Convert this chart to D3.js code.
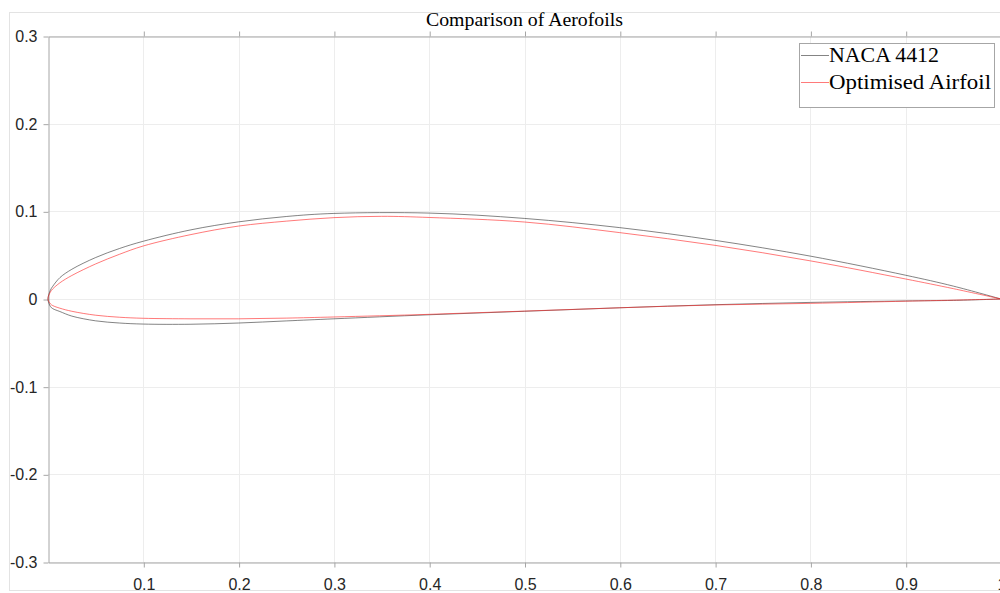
<!DOCTYPE html>
<html>
<head>
<meta charset="utf-8">
<script src="https://cdn.jsdelivr.net/npm/d3@7"></script>
<style>
  html, body { margin: 0; padding: 0; background: #fff; }
  svg { display: block; }
</style>
</head>
<body>
<svg id="chart" width="1000" height="593"></svg>
<script>
// ---- data ----
const title = "Comparison of Aerofoils";
const seriesNames = ["NACA 4412", "Optimised Airfoil"];

// NACA 4412: trailing edge -> upper surface -> leading edge -> lower surface -> trailing edge
const nacaX = [1.0, 0.95, 0.9, 0.8, 0.7, 0.6, 0.5, 0.4, 0.3, 0.25, 0.2, 0.15, 0.1, 0.075, 0.05, 0.025, 0.0125, 0.005, 0.0025, 0.0,
               0.0025, 0.005, 0.0125, 0.025, 0.05, 0.075, 0.1, 0.15, 0.2, 0.25, 0.3, 0.4, 0.5, 0.6, 0.7, 0.8, 0.9, 0.95, 1.0];
const nacaY = [0.0, 0.0147, 0.0271, 0.0489, 0.0669, 0.0814, 0.0919, 0.0980, 0.0976, 0.0941, 0.0880, 0.0789, 0.0659, 0.0576, 0.0473, 0.0339, 0.0244, 0.0145, 0.0100, 0.0,
               -0.0085, -0.0110, -0.0143, -0.0195, -0.0249, -0.0274, -0.0286, -0.0288, -0.0274, -0.0250, -0.0226, -0.0180, -0.0140, -0.0100, -0.0065, -0.0039, -0.0022, -0.0016, 0.0];

// Optimised airfoil
const optX = [1.0, 0.95, 0.9, 0.8, 0.7, 0.6, 0.5, 0.4, 0.35, 0.3, 0.25, 0.2, 0.15, 0.1, 0.075, 0.05, 0.025, 0.0125, 0.005, 0.0025, 0.0,
              0.0025, 0.005, 0.0125, 0.025, 0.05, 0.075, 0.1, 0.15, 0.2, 0.25, 0.3, 0.4, 0.5, 0.6, 0.7, 0.8, 0.9, 0.95, 1.0];
const optY = [0.0, 0.0118, 0.0228, 0.0435, 0.0612, 0.0757, 0.0878, 0.0930, 0.0943, 0.0928, 0.0888, 0.0832, 0.0735, 0.0605, 0.0510, 0.0400, 0.0268, 0.0185, 0.0115, 0.0080, 0.0,
              -0.0055, -0.0075, -0.0105, -0.0140, -0.0185, -0.0208, -0.0220, -0.0226, -0.0226, -0.0218, -0.0205, -0.0175, -0.0138, -0.0100, -0.0068, -0.0050, -0.0025, -0.0013, 0.0];

const xTicks = [0.1, 0.2, 0.3, 0.4, 0.5, 0.6, 0.7, 0.8, 0.9, 1.0];
const xTickLabels = ["0.1", "0.2", "0.3", "0.4", "0.5", "0.6", "0.7", "0.8", "0.9", "1"];
const yTicks = [-0.3, -0.2, -0.1, 0, 0.1, 0.2, 0.3];
const yTickLabels = ["-0.3", "-0.2", "-0.1", "0", "0.1", "0.2", "0.3"];
const seriesColors = ["#303030", "#ff2020"];

// ---- layout ----
const svg = d3.select("#chart");
const L = 48, R = 1001, T = 36, B = 562;
const x = d3.scaleLinear().domain([0, 1]).range([L, R]);
const y = d3.scaleLinear().domain([-0.3, 0.3]).range([B, T]);

// outer figure frame
svg.append("rect").attr("x", 9.5).attr("y", 12.5).attr("width", 1000).attr("height", 578)
  .attr("fill", "none").attr("stroke", "#e3e3e3").attr("stroke-width", 1);

// grid
const grid = svg.append("g");
grid.selectAll("line.vx").data(xTicks).join("line")
  .attr("x1", d => Math.round(x(d)) + 0.5).attr("x2", d => Math.round(x(d)) + 0.5)
  .attr("y1", T).attr("y2", B).attr("stroke", "#ededed").attr("stroke-width", 1);
grid.selectAll("line.hy").data(yTicks).join("line")
  .attr("y1", d => Math.round(y(d)) + 0.5).attr("y2", d => Math.round(y(d)) + 0.5)
  .attr("x1", L).attr("x2", 1000).attr("stroke", "#ededed").attr("stroke-width", 1);

// axes
const axisColor = "#a6a6a6";
const fontSans = "'Liberation Sans', Arial, Helvetica, sans-serif";
const xAxis = svg.append("g").attr("transform", `translate(0.5,${B + 0.5})`)
  .call(d3.axisBottom(x).tickValues(xTicks).tickFormat((d, i) => xTickLabels[i]).tickSize(5).tickSizeOuter(0).tickPadding(11));
const yAxis = svg.append("g").attr("transform", `translate(${L + 0.5},0.5)`)
  .call(d3.axisLeft(y).tickValues(yTicks).tickFormat((d, i) => yTickLabels[i]).tickSize(5).tickSizeOuter(0).tickPadding(6));
const topAxis = svg.append("g").attr("transform", `translate(0.5,${T + 0.5})`)
  .call(d3.axisTop(x).tickValues(xTicks).tickFormat("").tickSize(5).tickSizeOuter(0));
[xAxis, yAxis, topAxis].forEach(g => {
  g.selectAll("path.domain").attr("stroke", axisColor);
  g.selectAll(".tick line").attr("stroke", axisColor);
  g.selectAll(".tick text").attr("fill", "#262626").style("font-family", fontSans).style("font-size", "16px");
});

// data lines
const line = d3.line().x(d => x(d[0])).y(d => y(d[1])).curve(d3.curveCatmullRom.alpha(0.5));
const nacaPts = nacaX.map((v, i) => [v, nacaY[i]]);
const optPts = optX.map((v, i) => [v, optY[i]]);
svg.append("path").attr("d", line(nacaPts)).attr("fill", "none")
  .attr("stroke", seriesColors[0]).attr("stroke-width", 0.6);
svg.append("path").attr("d", line(optPts)).attr("fill", "none")
  .attr("stroke", seriesColors[1]).attr("stroke-width", 0.6);

// title
svg.append("text").attr("x", (L + R) / 2).attr("y", 26).attr("text-anchor", "middle")
  .style("font-family", "'Liberation Serif', serif").style("font-size", "19px").attr("fill", "#000")
  .attr("textLength", 197).attr("lengthAdjust", "spacingAndGlyphs")
  .text(title);

// legend
const legendWidths = [110, 162];
const lg = svg.append("g");
lg.append("rect").attr("x", 799.5).attr("y", 43.5).attr("width", 195).attr("height", 64)
  .attr("fill", "#fff").attr("stroke", axisColor).attr("stroke-width", 1);
seriesNames.forEach((name, i) => {
  const cy = 55.5 + i * 27;
  lg.append("line").attr("x1", 801).attr("x2", 829).attr("y1", cy).attr("y2", cy)
    .attr("stroke", seriesColors[i]).attr("stroke-width", 0.6);
  lg.append("text").attr("x", 829).attr("y", cy + 6.5)
    .style("font-family", "'Liberation Serif', serif").style("font-size", "21px").attr("fill", "#000")
    .attr("textLength", legendWidths[i]).attr("lengthAdjust", "spacingAndGlyphs")
    .text(name);
});
</script>
</body>
</html>
